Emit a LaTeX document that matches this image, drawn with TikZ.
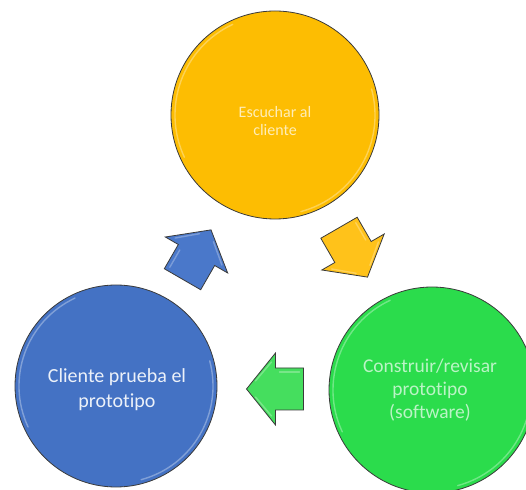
\documentclass[tikz,border=0pt]{standalone}
\usepackage{fontspec}
\setmainfont{Carlito}[Ligatures=NoCommon]
\definecolor{cOr}{HTML}{FDBD02}
\definecolor{cGr}{HTML}{2BDC4C}
\definecolor{cBl}{HTML}{4472C4}
\definecolor{cArOr}{HTML}{FFC21A}
\definecolor{cArGr}{HTML}{45DE5E}
\definecolor{cArBl}{HTML}{4A78CA}
\definecolor{cEdge}{HTML}{3A3A3A}
\tikzset{
  bubble/.style={circle, draw=cEdge, line width=0.8pt, inner sep=0pt},
  caption/.style={align=center, inner sep=0pt},
  arrowbody/.style={draw=cEdge, line width=0.8pt, line join=miter},
  shine/.style={line width=1.4pt, line cap=round, opacity=0.55},
}
\begin{document}
\begin{tikzpicture}[x=1pt,y=1pt]
\useasboundingbox (0,0) rectangle (526,489);
\begin{scope}
\clip (0,0) rectangle (526,489);
% circles
\node[bubble, fill=cOr, minimum size=208pt] (listen) at (275,374) {};
\node[bubble, fill=cGr, minimum size=206pt] (build) at (432,99) {};
\node[bubble, fill=cBl, minimum size=202pt] (test) at (116,103) {};
% bevel highlights
\draw[shine, white!60!cOr] (listen.center) ++(115:100) arc[start angle=115, end angle=205, radius=100];
\draw[shine, white!60!cOr] (listen.center) ++(-75:100) arc[start angle=-75, end angle=15, radius=100];
\draw[shine, white!60!cGr] (build.center) ++(115:99) arc[start angle=115, end angle=205, radius=99];
\draw[shine, white!60!cGr] (build.center) ++(-75:99) arc[start angle=-75, end angle=15, radius=99];
\draw[shine, white!60!cBl] (test.center) ++(115:97) arc[start angle=115, end angle=205, radius=97];
\draw[shine, white!60!cBl] (test.center) ++(-75:97) arc[start angle=-75, end angle=15, radius=97];
% texts
\node[caption, text=white!72!cOr, font=\fontsize{16}{18}\selectfont] (listenText) at (275,367.5) {Escuchar al\\cliente};
\node[caption, text=white!68!cGr, font=\fontsize{19.5}{23}\selectfont] (buildText) at (430,99) {Construir/revisar\\prototipo\\(software)};
\node[caption, text=white!90!cBl, font=\fontsize{20}{25}\selectfont] (testText) at (117,99.5) {Cliente prueba el\\prototipo};
\end{scope}
% arrows
\begin{scope}[shift={(196.5,234)}, rotate=60]
  \draw[arrowbody, fill=cArBl] (-28,-21) -- (0,-21) -- (0,-36) -- (29,0) -- (0,36) -- (0,21) -- (-28,21) -- cycle;
  \draw[shine, white!50!cArBl] (-24,17) -- (-4,17);
  \draw[shine, white!50!cArBl] (4,27) -- (20,8);
  \draw[shine, white!50!cArBl] (4,-27) -- (20,-8);
\end{scope}
\begin{scope}[shift={(353,237)}, rotate=-60]
  \draw[arrowbody, fill=cArOr] (-28,-21) -- (0,-21) -- (0,-36) -- (29,0) -- (0,36) -- (0,21) -- (-28,21) -- cycle;
  \draw[shine, white!50!cArOr] (-24,17) -- (-4,17);
  \draw[shine, white!50!cArOr] (4,27) -- (20,8);
  \draw[shine, white!50!cArOr] (4,-27) -- (20,-8);
\end{scope}
\begin{scope}[shift={(275.5,100)}, rotate=180]
  \draw[arrowbody, fill=cArGr] (-28,-21) -- (0,-21) -- (0,-36) -- (29,0) -- (0,36) -- (0,21) -- (-28,21) -- cycle;
  \draw[shine, white!50!cArGr] (-24,-17) -- (-4,-17);
  \draw[shine, white!50!cArGr] (4,27) -- (20,8);
  \draw[shine, white!50!cArGr] (4,-27) -- (20,-8);
\end{scope}
\end{tikzpicture}
\end{document}
